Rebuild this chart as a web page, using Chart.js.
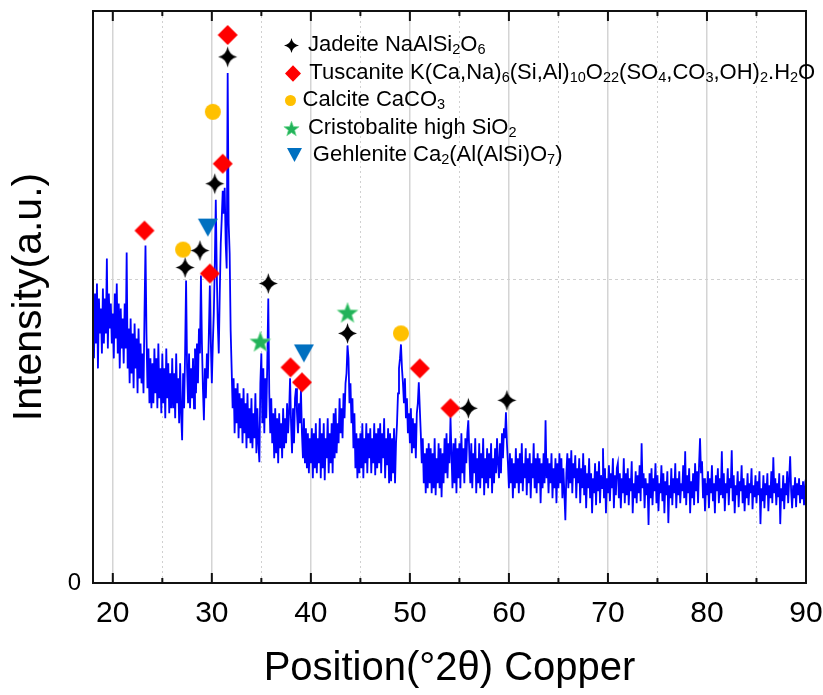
<!DOCTYPE html>
<html>
<head>
<meta charset="utf-8">
<script src="https://cdn.jsdelivr.net/npm/chart.js@4.4.1/dist/chart.umd.min.js"></script>
<style>
html,body{margin:0;padding:0;background:#fff;}
#wrap{position:relative;width:823px;height:695px;overflow:hidden;background:#fff;}
#legend{position:absolute;left:0;top:0;width:823px;height:695px;pointer-events:none;font-family:'Liberation Sans',Arial,sans-serif;font-size:22px;color:#000;}
.row-text{position:absolute;white-space:nowrap;line-height:26px;}
.row-text sub{font-size:0.66em;vertical-align:-0.2em;line-height:0;}
.row-mark{position:absolute;}
</style>
</head>
<body>
<div id="wrap"><canvas id="c" width="823" height="695"></canvas><div id="legend"></div></div>
<script>
// ---------------- data ----------------
const positionStart = 18.0;   // °2θ of first sample
const positionStep = 0.1;     // °2θ between samples
const intensity = [
  270,225,290,240,300,215,285,250,275,230,
  295,240,285,250,325,235,290,255,280,240,
  270,225,290,245,300,230,280,215,275,235,
  265,220,280,235,331,215,255,200,265,210,
  250,195,260,215,245,190,255,205,240,200,
  230,190,270,338,250,195,235,180,225,175,
  220,180,235,190,225,175,240,185,215,170,
  230,180,215,165,235,185,220,170,210,175,
  225,175,210,165,230,180,205,160,220,170,
  143,210,175,230,303,215,180,230,175,215,
  185,225,175,235,190,240,200,255,230,308,
  240,195,163,215,185,230,205,250,298,240,
  200,240,270,320,384,310,260,230,290,340,
  365,393,370,396,340,315,511,360,330,253,
  215,175,205,150,195,160,200,145,190,155,
  185,140,195,150,180,135,190,145,175,140,
  185,135,170,145,190,130,175,140,121,200,
  230,160,215,150,205,165,220,285,190,150,
  185,140,170,125,175,130,165,120,170,135,
  160,125,175,135,165,140,180,150,170,205,
  160,130,175,140,185,195,170,150,180,160,
  193,150,125,165,120,155,115,150,110,145,
  120,155,105,150,115,160,110,145,120,165,
  105,150,115,160,103,145,125,165,110,150,
  120,160,110,170,125,175,130,160,140,185,
  150,175,145,190,165,200,210,238,225,180,
  200,160,185,135,170,115,150,105,145,110,
  150,115,160,105,145,120,160,110,150,125,
  155,110,145,120,160,108,150,115,155,120,
  160,110,150,125,165,105,145,118,155,100,
  150,102,145,110,155,100,140,160,190,215,
  225,239,215,200,180,205,165,185,150,170,
  140,175,130,165,135,160,125,170,180,201,
  175,150,120,145,100,130,90,135,95,140,
  100,135,90,130,95,145,88,125,100,140,
  95,135,86,130,100,145,110,150,105,140,
  120,166,130,95,140,100,145,90,135,105,
  140,95,150,110,135,100,145,120,150,163,
  130,100,140,95,130,110,145,90,125,100,
  140,95,130,105,145,88,125,100,135,95,
  130,105,140,90,125,100,135,110,145,120,
  105,140,110,150,125,155,145,171,140,120,
  95,130,100,125,85,120,95,135,100,125,
  90,130,100,140,92,120,105,135,88,125,
  100,130,85,120,105,140,95,125,90,130,
  100,125,80,120,95,130,100,163,105,125,
  90,120,100,130,85,115,95,125,80,120,
  95,130,100,125,85,115,90,63,110,130,
  95,125,100,133,90,120,105,128,85,115,
  100,125,80,115,95,130,88,118,75,110,
  95,125,85,110,70,105,90,120,78,112,
  92,122,80,108,95,135,85,115,70,105,
  90,118,82,110,95,125,75,108,88,115,
  120,85,110,75,105,90,125,80,110,88,
  115,78,105,92,122,70,100,85,112,80,
  108,90,118,82,140,95,110,75,105,88,
  100,58,110,85,115,78,105,92,120,80,
  108,72,100,90,118,82,110,70,102,88,
  112,60,98,85,115,78,105,90,120,75,
  105,88,112,80,100,92,118,85,132,78,
  108,90,115,70,102,85,110,78,120,92,
  112,80,118,145,110,122,85,105,72,100,
  88,112,75,105,90,118,82,100,70,108,
  92,115,80,105,88,132,85,110,72,100,
  90,115,78,105,95,133,82,108,70,98,
  88,112,76,102,92,118,80,105,72,98,
  85,110,78,100,90,115,74,98,86,108,
  80,102,88,112,59,95,82,108,75,100,
  88,110,72,98,85,112,80,126,90,105,
  78,100,86,110,59,95,82,108,74,100,
  88,112,80,104,127,92,75,98,85,106,
  76,100,88,105,80,98,84,102,78,96,
  90
];

// phase markers (position °2θ, marker height in intensity units)
const jadeiteX = [27.3, 28.8, 30.3, 31.6, 35.7, 43.7, 55.9, 59.8];
const jadeiteY = [316, 333, 400, 527, 300, 250, 175, 183];
const tuscaniteX = [23.2, 29.8, 31.1, 31.6, 37.95, 39.1, 51.0, 54.1];
const tuscaniteY = [353, 310, 420, 549, 216, 201, 215, 175];
const calciteX = [27.1, 30.1, 49.1];
const calciteY = [334, 472, 250];
const cristobaliteX = [34.9, 43.7];
const cristobaliteY = [242, 271];
const gehleniteX = [29.6, 39.3];
const gehleniteY = [356, 230];

// legend names: even parts normal, odd parts subscript
const jadeiteName = ['Jadeite NaAlSi', '2', 'O', '6'];
const tuscaniteName = ['Tuscanite K(Ca,Na)', '6', '(Si,Al)', '10', 'O', '22', '(SO', '4', ',CO', '3', ',OH)', '2', '.H', '2', 'O'];
const calciteName = ['Calcite CaCO', '3'];
const cristobaliteName = ['Cristobalite high SiO', '2'];
const gehleniteName = ['Gehlenite Ca', '2', '(Al(AlSi)O', '7', ')'];

const xTickValues = [20,25,30,35,40,45,50,55,60,65,70,75,80,85,90];
const yTickValues = [0, 304];
const xTitle = 'Position(°2θ) Copper';
const yTitle = 'Intensity(a.u.)';

// ---------------- helpers ----------------
const SUB = {'0':'₀','1':'₁','2':'₂','3':'₃','4':'₄','5':'₅','6':'₆','7':'₇','8':'₈','9':'₉'};
function plainName(parts){ return parts.map((p,i)=> i%2 ? p.split('').map(ch=>SUB[ch]||ch).join('') : p).join(''); }
function htmlName(parts){ return parts.map((p,i)=> i%2 ? '<sub>'+p+'</sub>' : p).join(''); }

function makeMarker(kind, color, w, h){
  const c = document.createElement('canvas');
  c.width = Math.ceil(w + 4); c.height = Math.ceil(h + 4);
  const g = c.getContext('2d');
  const cx = c.width/2, cy = c.height/2, rx = w/2, ry = h/2;
  g.fillStyle = color;
  g.beginPath();
  if (kind === 'star4') {
    const k = 0.16;
    g.moveTo(cx, cy-ry);
    g.quadraticCurveTo(cx+k*rx, cy-k*ry, cx+rx, cy);
    g.quadraticCurveTo(cx+k*rx, cy+k*ry, cx, cy+ry);
    g.quadraticCurveTo(cx-k*rx, cy+k*ry, cx-rx, cy);
    g.quadraticCurveTo(cx-k*rx, cy-k*ry, cx, cy-ry);
  } else if (kind === 'diamond') {
    g.moveTo(cx, cy-ry); g.lineTo(cx+rx, cy); g.lineTo(cx, cy+ry); g.lineTo(cx-rx, cy);
  } else if (kind === 'circle') {
    g.arc(cx, cy, rx, 0, Math.PI*2);
  } else if (kind === 'star5') {
    const R = ry / 0.905;
    for (let i=0;i<10;i++){
      const rr = i%2 ? R*0.42 : R;
      const a = -Math.PI/2 + i*Math.PI/5;
      const px = cx + rr*Math.cos(a), py = cy + (R - R*0.809)/2 + rr*Math.sin(a);
      if (i===0) g.moveTo(px, py); else g.lineTo(px, py);
    }
  } else if (kind === 'triDown') {
    g.moveTo(cx-rx, cy-ry); g.lineTo(cx+rx, cy-ry); g.lineTo(cx, cy+ry);
  }
  g.closePath();
  g.fill();
  if (kind === 'star5') { g.strokeStyle = 'rgba(120,220,150,0.9)'; g.lineWidth = 0.8; g.stroke(); }
  return c;
}

const phases = [
  {name: jadeiteName, xs: jadeiteX, ys: jadeiteY, kind: 'star4', color: '#000000', size: [19, 21], lsize: [15, 15], lx: 291.8, tx: 307.9},
  {name: tuscaniteName, xs: tuscaniteX, ys: tuscaniteY, kind: 'diamond', color: '#ff0000', size: [20, 20], lsize: [16, 16.5], lx: 292.8, tx: 309.3},
  {name: calciteName, xs: calciteX, ys: calciteY, kind: 'circle', color: '#ffc000', size: [16, 16], lsize: [11, 11], lx: 290, tx: 302.6},
  {name: cristobaliteName, xs: cristobaliteX, ys: cristobaliteY, kind: 'star5', color: '#22b25a', size: [20, 19.5], lsize: [15, 14.5], lx: 291.8, tx: 307.9},
  {name: gehleniteName, xs: gehleniteX, ys: gehleniteY, kind: 'triDown', color: '#0070c0', size: [20, 18], lsize: [15, 14], lx: 294.9, tx: 312.8}
];
const legendRowY = [45.3, 73.3, 100.2, 128, 155];

// ---------------- datasets ----------------
const patternData = intensity.map((v,i)=>({x: +(positionStart + i*positionStep).toFixed(2), y: v}));
const datasets = [{
  label: 'XRD pattern',
  data: patternData,
  showLine: true,
  borderColor: '#0000ff',
  backgroundColor: '#0000ff',
  borderWidth: 1.8,
  pointRadius: 0,
  tension: 0,
  order: 10
}];
phases.forEach((p, k) => {
  datasets.push({
    label: plainName(p.name),
    data: p.xs.map((x,i)=>({x: x, y: p.ys[i]})),
    showLine: false,
    pointStyle: makeMarker(p.kind, p.color, p.size[0], p.size[1]),
    pointRadius: 10,
    backgroundColor: p.color,
    borderColor: p.color,
    order: k
  });
});

// ---------------- plugins ----------------
const framePlugin = {
  id: 'frame',
  afterDatasetsDraw(chart){
    const {ctx, chartArea: a, scales: {x}} = chart;
    ctx.save();
    ctx.strokeStyle = '#111';
    ctx.lineWidth = 2;
    ctx.beginPath();
    xTickValues.forEach(v => {
      const px = x.getPixelForValue(v);
      const len = v % 10 === 0 ? 10 : 5;
      ctx.moveTo(px, a.bottom); ctx.lineTo(px, a.bottom - len);
      ctx.moveTo(px, a.top); ctx.lineTo(px, a.top + len);
    });
    ctx.stroke();
    ctx.lineWidth = 2;
    ctx.strokeRect(a.left, a.top, a.right - a.left, a.bottom - a.top);
    ctx.restore();
  }
};

Chart.defaults.font.family = "'Liberation Sans', Arial, sans-serif";
Chart.defaults.color = '#000';

new Chart(document.getElementById('c'), {
  type: 'scatter',
  data: {datasets},
  options: {
    responsive: false,
    animation: false,
    devicePixelRatio: 1,
    layout: {padding: {top: 10, right: 17, left: 0, bottom: 0}},
    plugins: {legend: {display: false}, tooltip: {enabled: false}},
    scales: {
      x: {
        type: 'linear', min: 18, max: 90,
        afterFit: s => { s.height = 112; s.paddingLeft = 0; s.paddingRight = 0; },
        afterBuildTicks: s => { s.ticks = xTickValues.map(v => ({value: v})); },
        ticks: {
          autoSkip: false, maxRotation: 0, padding: 13,
          font: {size: 30},
          callback: v => (v % 10 === 0 ? String(v) : '')
        },
        grid: {
          drawTicks: false,
          color: c => (c.tick && c.tick.value % 10 === 0 ? '#d4d4d4' : '#d0d0d0'),
          lineWidth: c => (c.tick && c.tick.value % 10 === 0 ? 1.5 : 1)
        },
        border: {display: false, dash: c => (c.tick && c.tick.value % 10 !== 0 ? [2, 3] : [])},
        title: {display: true, text: xTitle, font: {size: 40, lineHeight: 1.2}, padding: {top: 0, bottom: 2}}
      },
      y: {
        type: 'linear', min: 0, max: 573,
        afterFit: s => { s.width = 93; s.paddingTop = 0; s.paddingBottom = 0; },
        afterBuildTicks: s => { s.ticks = yTickValues.map(v => ({value: v})); },
        ticks: {
          padding: 12, font: {size: 24},
          callback: v => (v === 0 ? '0' : '')
        },
        grid: {
          drawTicks: false,
          color: c => (c.tick && c.tick.value === 0 ? 'rgba(0,0,0,0)' : '#d0d0d0'),
          lineWidth: 1
        },
        border: {display: false, dash: [3, 3]},
        title: {display: true, text: yTitle, font: {size: 41, lineHeight: 1.2}, padding: {top: 5, bottom: 0}}
      }
    }
  },
  plugins: [framePlugin]
});

// ---------------- HTML legend (inside plot) ----------------
const legendEl = document.getElementById('legend');
phases.forEach((p, k) => {
  const y = legendRowY[k];
  const mk = makeMarker(p.kind, p.color, p.lsize[0], p.lsize[1]);
  mk.className = 'row-mark';
  mk.style.left = (p.lx - mk.width/2) + 'px';
  mk.style.top = (y - mk.height/2) + 'px';
  legendEl.appendChild(mk);
  const t = document.createElement('div');
  t.className = 'row-text';
  t.style.left = p.tx + 'px';
  t.style.top = (y - 14) + 'px';
  t.innerHTML = htmlName(p.name);
  legendEl.appendChild(t);
});
</script>
</body>
</html>
